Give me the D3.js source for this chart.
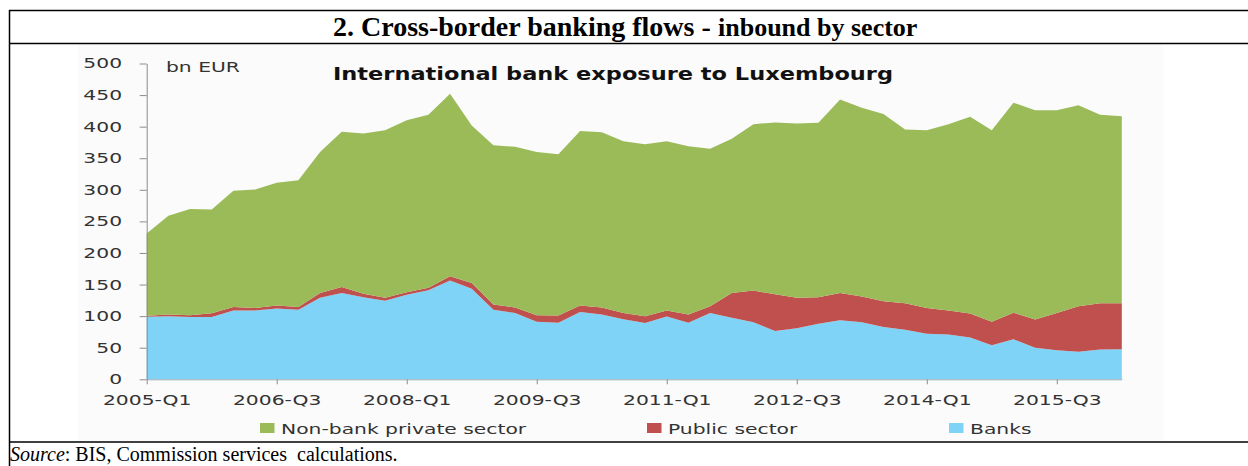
<!DOCTYPE html>
<html>
<head>
<meta charset="utf-8">
<script src="https://cdn.jsdelivr.net/npm/d3@7"></script>
<style>
  html, body { margin: 0; padding: 0; background: #ffffff; }
  svg { display: block; }
</style>
</head>
<body>
<svg id="chart" width="1248" height="466"></svg>
<script>
// ---------------- DATA ----------------
const quarters = [
  "2005-Q1","2005-Q2","2005-Q3","2005-Q4",
  "2006-Q1","2006-Q2","2006-Q3","2006-Q4",
  "2007-Q1","2007-Q2","2007-Q3","2007-Q4",
  "2008-Q1","2008-Q2","2008-Q3","2008-Q4",
  "2009-Q1","2009-Q2","2009-Q3","2009-Q4",
  "2010-Q1","2010-Q2","2010-Q3","2010-Q4",
  "2011-Q1","2011-Q2","2011-Q3","2011-Q4",
  "2012-Q1","2012-Q2","2012-Q3","2012-Q4",
  "2013-Q1","2013-Q2","2013-Q3","2013-Q4",
  "2014-Q1","2014-Q2","2014-Q3","2014-Q4",
  "2015-Q1","2015-Q2","2015-Q3","2015-Q4",
  "2016-Q1","2016-Q2"
];
// bn EUR
const banks = [
  99, 100, 98.5, 98.5, 109, 109, 112, 110, 129, 136.5,
  130, 124.5, 134, 141, 156.5, 143.5, 110, 105, 91, 89.5,
  106.5, 102.5, 95, 89, 99.5, 89.5, 105, 97.5, 90.5, 76.5,
  81, 88, 93.5, 90.5, 83, 78.5, 72, 71, 66, 54,
  63.5, 50, 46, 43.5, 47, 47.5
];
const publicSector = [
  1.5, 2.5, 3, 6, 5.5, 4, 5, 4.5, 7.5, 9.5,
  5.5, 4.5, 4, 4, 6.5, 9, 8.5, 8.5, 10.5, 11.5,
  10.5, 11, 10, 11, 9.5, 13, 10.5, 39, 50, 58,
  48, 42, 43, 40.5, 40.5, 42, 41, 38, 38, 37,
  42, 44.5, 59, 72, 73.5, 73
];
const nonBank = [
  130.5, 156.5, 168, 164.5, 184, 187.6, 194, 200.5, 223.5, 246,
  253.5, 265.5, 272, 274, 289, 249.5, 252, 254.5, 258.5, 255.5,
  276, 277.5, 272, 272, 268, 266.5, 249.5, 244.5, 263.5, 272,
  276, 276, 306.5, 299, 296.5, 275, 281.5, 295, 311.5, 303.5,
  332.5, 331.5, 321, 318.5, 298.5, 296
];
const seriesNames = ["Banks", "Public sector", "Non-bank private sector"];
const seriesKeys = ["banks", "public", "nonbank"];
const seriesColors = ["#7fd3f6", "#c0504d", "#9bbb59"];
const legendOrder = [2, 1, 0];
const yTicks = [0, 50, 100, 150, 200, 250, 300, 350, 400, 450, 500];
const xTickLabels = ["2005-Q1","2006-Q3","2008-Q1","2009-Q3","2011-Q1","2012-Q3","2014-Q1","2015-Q3"];

// ---------------- CHART ----------------
const svg = d3.select("#chart");
const SX = 1.45; // horizontal stretch of the original picture text
const FONT = "'DejaVu Sans', Verdana, sans-serif";
const LABEL = "#333333";

const table = quarters.map((q, i) => ({
  q, banks: banks[i], public: publicSector[i], nonbank: nonBank[i]
}));

const x = d3.scalePoint().domain(quarters).range([146.7, 1121.8]);
const y = d3.scaleLinear().domain([0, 500]).range([379.3, 63.5]);

// faint background of the pasted chart picture
svg.append("rect").attr("x", 78).attr("y", 45).attr("width", 1085).attr("height", 396)
  .attr("fill", "#fbfbfb");

const stack = d3.stack().keys(seriesKeys);
const layers = stack(table);
const area = d3.area()
  .x(d => x(d.data.q))
  .y0(d => y(d[0]))
  .y1(d => y(d[1]));

svg.append("g").selectAll("path").data(layers).join("path")
  .attr("d", area)
  .attr("fill", (d, i) => seriesColors[i]);

// Y axis
const yAxis = svg.append("g")
  .attr("transform", `translate(${x(quarters[0])},0)`)
  .call(d3.axisLeft(y).tickValues(yTicks).tickSize(7).tickSizeOuter(0).tickFormat(d3.format("d")));
yAxis.select(".domain").attr("stroke", "#8c8c8c");
yAxis.selectAll(".tick line").attr("stroke", "#8c8c8c");
yAxis.selectAll(".tick text")
  .attr("x", -17)
  .attr("transform", `scale(${SX},1)`)
  .attr("fill", LABEL)
  .style("font-family", FONT).style("font-size", "14px");

// X axis
const xAxis = svg.append("g")
  .attr("transform", `translate(0,${y(0)})`)
  .call(d3.axisBottom(x).tickValues(xTickLabels).tickSize(5).tickSizeOuter(0));
xAxis.select(".domain").attr("stroke", "#9aaab4");
xAxis.selectAll(".tick line").attr("stroke", "#8c8c8c");
xAxis.selectAll(".tick text")
  .attr("y", 21).attr("dy", "0.35em")
  .attr("transform", `scale(${SX},1)`)
  .attr("fill", LABEL)
  .style("font-family", FONT).style("font-size", "14px");

function stretched(txt, px, py, opts = {}) {
  return svg.append("text")
    .attr("transform", `translate(${px},${py}) scale(${SX},1)`)
    .attr("fill", opts.fill || LABEL)
    .style("font-family", FONT)
    .style("font-size", (opts.size || 14) + "px")
    .style("font-weight", opts.weight || "normal")
    .text(txt);
}

// unit label
stretched("bn EUR", 166, 72);

// inner chart title
svg.append("text")
  .attr("x", 333).attr("y", 80)
  .attr("textLength", 560).attr("lengthAdjust", "spacingAndGlyphs")
  .style("font-family", FONT).style("font-size", "17px").style("font-weight", "bold")
  .attr("fill", "#111")
  .text("International bank exposure to Luxembourg");

// legend
const legendX = [260, 647, 949];
legendOrder.forEach((si, k) => {
  svg.append("rect")
    .attr("x", legendX[k]).attr("y", 423)
    .attr("width", 14.5).attr("height", 10)
    .attr("fill", seriesColors[si]);
  stretched(seriesNames[si], legendX[k] + 21, 433.5);
});

// frame
const frame = svg.append("g").attr("stroke", "#000").attr("fill", "none");
frame.append("line").attr("x1", 9).attr("x2", 1248).attr("y1", 10.5).attr("y2", 10.5).attr("stroke-width", 1.5);
frame.append("line").attr("x1", 9).attr("x2", 1248).attr("y1", 43.5).attr("y2", 43.5).attr("stroke-width", 1.5);
frame.append("line").attr("x1", 9.5).attr("x2", 9.5).attr("y1", 10).attr("y2", 466).attr("stroke-width", 1.5);
frame.append("line").attr("x1", 9).attr("x2", 1248).attr("y1", 442).attr("y2", 442).attr("stroke-width", 1.5);

// figure title
const t = svg.append("text").attr("x", 333).attr("y", 35.5)
  .style("font-family", "'Liberation Serif', 'Times New Roman', serif")
  .style("font-weight", "bold").attr("fill", "#000");
t.append("tspan").style("font-size", "28px").text("2. Cross-border banking flows -");
t.append("tspan").attr("x", 718).style("font-size", "26px").text("inbound by sector");

// source line
const s = svg.append("text").attr("x", 10).attr("y", 461)
  .style("font-family", "'Liberation Serif', 'Times New Roman', serif")
  .style("font-size", "20px").style("white-space", "pre").attr("fill", "#000");
s.append("tspan").style("font-style", "italic").text("Source");
s.append("tspan").text(": BIS, Commission services  calculations.");
</script>
</body>
</html>
